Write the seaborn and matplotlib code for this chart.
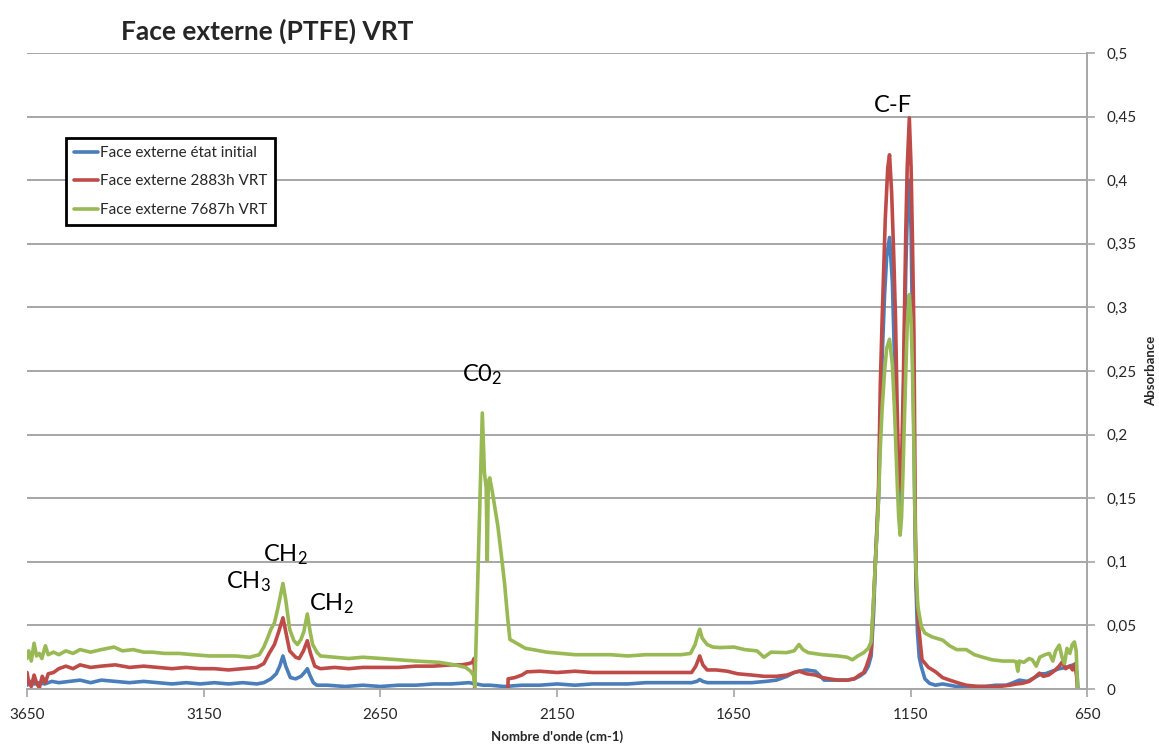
import matplotlib
matplotlib.use("Agg")
import matplotlib.pyplot as plt
import pandas as pd
import seaborn as sns
from matplotlib.lines import Line2D
from matplotlib.ticker import FuncFormatter


# wavenumbers (cm-1) and absorbance, one pair of lists per series
wn_initial = [3650, 3640, 3630, 3615, 3600, 3580, 3560, 3530, 3500, 3470, 3440, 3400, 3360, 3320,
              3280, 3240, 3200, 3160, 3120, 3080, 3040, 3000, 2980, 2960, 2945, 2935, 2926, 2918,
              2905, 2890, 2875, 2865, 2857, 2850, 2840, 2830, 2800, 2750, 2700, 2650, 2600, 2550,
              2500, 2450, 2400, 2380, 2360, 2340, 2300, 2250, 2200, 2150, 2100, 2050, 2000, 1950,
              1900, 1850, 1800, 1770, 1755, 1747, 1738, 1725, 1700, 1650, 1600, 1560, 1530, 1500,
              1480, 1465, 1445, 1420, 1405, 1395, 1370, 1350, 1330, 1310, 1295, 1280, 1270, 1262,
              1255, 1250, 1245, 1241, 1236, 1231, 1224, 1218, 1210, 1202, 1196, 1192, 1188, 1184,
              1180, 1176, 1172, 1168, 1164, 1160, 1154, 1149, 1145, 1141, 1138, 1135, 1131, 1126,
              1120, 1110, 1097, 1080, 1060, 1040, 1020, 1000, 970, 940, 910, 880, 860, 843, 820,
              800, 780, 769, 750, 730, 711, 700, 690, 683, 679, 675]
abs_initial = [0.003, 0.006, 0.004, 0.005, 0.004, 0.006, 0.005, 0.006, 0.007, 0.005, 0.007, 0.006,
               0.005, 0.006, 0.005, 0.004, 0.005, 0.004, 0.005, 0.004, 0.005, 0.004, 0.005, 0.008,
               0.012, 0.018, 0.026, 0.018, 0.009, 0.008, 0.010, 0.013, 0.016, 0.011, 0.005, 0.003,
               0.003, 0.002, 0.003, 0.002, 0.003, 0.003, 0.004, 0.004, 0.005, 0.004, 0.003, 0.003,
               0.002, 0.003, 0.003, 0.004, 0.003, 0.004, 0.004, 0.004, 0.005, 0.005, 0.005, 0.005,
               0.006, 0.0075, 0.006, 0.005, 0.005, 0.005, 0.005, 0.006, 0.007, 0.010, 0.013, 0.014,
               0.015, 0.014, 0.010, 0.007, 0.007, 0.007, 0.007, 0.008, 0.010, 0.013, 0.018, 0.026,
               0.06, 0.10, 0.13, 0.15, 0.21, 0.26, 0.31, 0.34, 0.355, 0.32, 0.26, 0.22, 0.18, 0.15,
               0.13, 0.15, 0.20, 0.27, 0.33, 0.37, 0.40, 0.36, 0.28, 0.20, 0.13, 0.08, 0.045, 0.025,
               0.0175, 0.008, 0.0045, 0.003, 0.004, 0.003, 0.002, 0.002, 0.002, 0.002, 0.003, 0.003,
               0.005, 0.007, 0.006, 0.009, 0.012, 0.012, 0.014, 0.016, 0.017, 0.018, 0.019, 0.016,
               0.010, -0.01]

wn_2883h = [3650, 3645, 3638, 3630, 3622, 3615, 3607, 3598, 3590, 3575, 3560, 3540, 3520, 3500,
            3470, 3440, 3400, 3360, 3320, 3280, 3240, 3200, 3160, 3120, 3080, 3040, 3000, 2980,
            2965, 2950, 2938, 2926, 2918, 2907, 2890, 2880, 2868, 2857, 2848, 2836, 2820, 2780,
            2740, 2700, 2650, 2600, 2550, 2500, 2450, 2420, 2400, 2390, 2385, 2383, 2290, 2289,
            2270, 2250, 2236, 2200, 2150, 2100, 2050, 2000, 1950, 1900, 1850, 1800, 1770, 1758,
            1747, 1738, 1726, 1700, 1669, 1640, 1600, 1565, 1530, 1500, 1480, 1466, 1445, 1420,
            1400, 1380, 1356, 1330, 1310, 1295, 1283, 1276, 1268, 1262, 1255, 1250, 1245, 1241,
            1236, 1231, 1222, 1215, 1210, 1204, 1198, 1193, 1189, 1185, 1180, 1175, 1171, 1168,
            1164, 1160, 1154, 1149, 1145, 1141, 1139, 1137, 1134, 1128, 1118, 1100, 1080, 1060,
            1040, 1012, 993, 960, 930, 900, 870, 850, 834, 815, 800, 786, 775, 760, 745, 730, 721,
            712, 700, 692, 685, 680, 677]
abs_2883h = [0.013, 0.005, 0.002, 0.011, 0.004, 0.001, 0.010, 0.005, 0.012, 0.013, 0.016, 0.018,
             0.016, 0.019, 0.017, 0.018, 0.019, 0.017, 0.018, 0.017, 0.016, 0.017, 0.016, 0.016,
             0.015, 0.016, 0.017, 0.020, 0.028, 0.035, 0.045, 0.056, 0.045, 0.030, 0.025, 0.024,
             0.030, 0.038, 0.028, 0.018, 0.016, 0.017, 0.016, 0.017, 0.017, 0.017, 0.018, 0.018,
             0.019, 0.019, 0.020, 0.021, 0.024, -0.01, -0.01, 0.008, 0.009, 0.011, 0.0135, 0.014,
             0.013, 0.014, 0.013, 0.013, 0.013, 0.013, 0.013, 0.013, 0.013, 0.018, 0.026, 0.019,
             0.015, 0.015, 0.014, 0.012, 0.011, 0.010, 0.010, 0.011, 0.013, 0.014, 0.012, 0.011,
             0.009, 0.008, 0.007, 0.007, 0.008, 0.011, 0.013, 0.0175, 0.024, 0.030, 0.07, 0.10,
             0.13, 0.16, 0.24, 0.29, 0.37, 0.41, 0.42, 0.39, 0.34, 0.29, 0.23, 0.18, 0.156, 0.19,
             0.24, 0.29, 0.36, 0.41, 0.449, 0.41, 0.35, 0.28, 0.20, 0.13, 0.08, 0.05, 0.023, 0.017,
             0.0136, 0.009, 0.007, 0.0045, 0.003, 0.002, 0.002, 0.002, 0.003, 0.004, 0.0045, 0.006,
             0.009, 0.0125, 0.010, 0.011, 0.014, 0.018, 0.0215, 0.016, 0.018, 0.015, 0.020, 0.008,
             -0.01]

wn_7687h = [3650, 3645, 3638, 3630, 3623, 3615, 3608, 3598, 3590, 3575, 3560, 3540, 3520, 3500,
            3470, 3440, 3404, 3380, 3350, 3320, 3296, 3260, 3220, 3180, 3134, 3100, 3060, 3020,
            2993, 2980, 2971, 2960, 2950, 2940, 2926, 2918, 2907, 2895, 2885, 2875, 2867, 2857,
            2849, 2842, 2830, 2820, 2780, 2740, 2700, 2647, 2600, 2550, 2484, 2440, 2409, 2395,
            2387, 2383, 2362, 2356, 2351, 2348, 2345, 2341, 2333, 2325, 2318, 2308, 2299, 2290,
            2284, 2265, 2240, 2219, 2180, 2140, 2100, 2067, 2000, 1950, 1900, 1850, 1800, 1773,
            1760, 1752, 1747, 1740, 1726, 1710, 1690, 1650, 1620, 1585, 1565, 1545, 1502, 1480,
            1466, 1455, 1440, 1400, 1356, 1330, 1315, 1300, 1283, 1270, 1262, 1255, 1250, 1245,
            1241, 1236, 1231, 1224, 1218, 1210, 1202, 1196, 1192, 1188, 1184, 1180, 1176, 1172,
            1168, 1164, 1160, 1154, 1149, 1145, 1141, 1139, 1136, 1130, 1120, 1110, 1090, 1060,
            1040, 1020, 993, 970, 946, 920, 890, 860, 852, 847, 843, 830, 815, 806, 795, 785, 770,
            758, 748, 740, 730, 722, 715, 708, 700, 693, 687, 682, 678]
abs_7687h = [0.024, 0.030, 0.022, 0.036, 0.026, 0.028, 0.024, 0.034, 0.027, 0.029, 0.027, 0.030,
             0.028, 0.031, 0.029, 0.031, 0.033, 0.030, 0.031, 0.029, 0.029, 0.028, 0.028, 0.027,
             0.026, 0.026, 0.026, 0.025, 0.027, 0.033, 0.039, 0.047, 0.052, 0.064, 0.083, 0.070,
             0.047, 0.038, 0.035, 0.039, 0.045, 0.059, 0.045, 0.035, 0.029, 0.026, 0.025, 0.024,
             0.025, 0.024, 0.023, 0.022, 0.021, 0.019, 0.017, 0.014, 0.011, 0.002, 0.217, 0.170,
             0.158, 0.101, 0.163, 0.166, 0.154, 0.140, 0.128, 0.105, 0.083, 0.055, 0.039, 0.036,
             0.032, 0.031, 0.029, 0.028, 0.027, 0.027, 0.027, 0.026, 0.027, 0.027, 0.027, 0.028,
             0.035, 0.043, 0.047, 0.040, 0.035, 0.033, 0.0326, 0.033, 0.031, 0.030, 0.025, 0.029,
             0.0286, 0.030, 0.035, 0.031, 0.0286, 0.027, 0.026, 0.025, 0.023, 0.026, 0.0286, 0.032,
             0.037, 0.07, 0.10, 0.125, 0.15, 0.19, 0.22, 0.25, 0.268, 0.275, 0.255, 0.22, 0.19,
             0.16, 0.135, 0.121, 0.135, 0.17, 0.21, 0.25, 0.285, 0.31, 0.29, 0.25, 0.19, 0.15,
             0.10, 0.065, 0.049, 0.044, 0.041, 0.0385, 0.034, 0.031, 0.031, 0.027, 0.025, 0.023,
             0.022, 0.022, 0.0215, 0.014, 0.022, 0.021, 0.024, 0.023, 0.018, 0.025, 0.027, 0.028,
             0.022, 0.030, 0.0345, 0.025, 0.020, 0.032, 0.028, 0.035, 0.037, 0.030, 0.0]

series_names = ["Face externe état initial", "Face externe 2883h VRT", "Face externe 7687h VRT"]
series_colors = ["#4A7EBB", "#BE4B48", "#98B954"]
x_ticks = [3650, 3150, 2650, 2150, 1650, 1150, 650]
y_ticks = [0, 0.05, 0.1, 0.15, 0.2, 0.25, 0.3, 0.35, 0.4, 0.45, 0.5]

# band labels: text, wavenumber, absorbance
band_labels = [
    ("C-F", 1200, 0.459),
    ("C0$_{\\mathrm{2}}$", 2363, 0.247),
    ("CH$_{\\mathrm{2}}$", 2920, 0.106),
    ("CH$_{\\mathrm{3}}$", 3025, 0.084),
    ("CH$_{\\mathrm{2}}$", 2790, 0.067),
]


def comma_fmt(v, _pos):
    return f"{v:.2f}".rstrip("0").rstrip(".").replace(".", ",")


def main() -> None:
    sns.set_theme(style="white")
    plt.rcParams["font.family"] = ["Lato", "DejaVu Sans"]
    plt.rcParams["mathtext.fontset"] = "custom"
    plt.rcParams["mathtext.rm"] = "Lato"
    plt.rcParams["mathtext.it"] = "Lato"

    frames = []
    for name, wn, ab in zip(series_names,
                            [wn_initial, wn_2883h, wn_7687h],
                            [abs_initial, abs_2883h, abs_7687h]):
        frames.append(pd.DataFrame({"wn": wn, "abs": ab, "serie": name}))
    df = pd.concat(frames, ignore_index=True)

    fig = plt.figure(figsize=(11.59, 7.47), dpi=100)
    ax = fig.add_axes([0.0233, 0.0776, 0.915, 0.8514])

    sns.lineplot(data=df, x="wn", y="abs", hue="serie", hue_order=series_names,
                 palette=dict(zip(series_names, series_colors)), sort=False,
                 estimator=None, linewidth=2.6, legend=False, ax=ax)

    ax.set_xlim(3650, 650)
    ax.set_ylim(0, 0.5)
    ax.set_xticks(x_ticks)
    ax.set_yticks(y_ticks)
    ax.yaxis.set_major_formatter(FuncFormatter(comma_fmt))
    ax.yaxis.tick_right()
    ax.yaxis.set_label_position("right")
    ax.grid(axis="y", color="#A6A6A6", linewidth=1.4)
    ax.grid(axis="x", visible=False)
    ax.set_axisbelow(True)

    for side in ["left", "top"]:
        ax.spines[side].set_visible(False)
    for side in ["right", "bottom"]:
        ax.spines[side].set_color("#A6A6A6")
        ax.spines[side].set_linewidth(1.4)

    ax.tick_params(axis="x", direction="out", length=6, width=1.2, color="#A6A6A6",
                   labelsize=11, pad=8, bottom=True)
    ax.tick_params(axis="y", direction="out", length=6, width=1.2, color="#A6A6A6",
                   labelsize=11, pad=8, right=True, left=False)

    ax.set_xlabel("Nombre d'onde (cm-1)", fontsize=9.5, fontweight="bold", labelpad=6)
    ax.set_ylabel("Absorbance", fontsize=9.5, fontweight="bold", labelpad=6)

    for txt, x, y in band_labels:
        ax.text(x, y, txt, fontsize=17, ha="center", va="center", color="black")

    handles = [Line2D([0], [0], color=c, linewidth=2.6) for c in series_colors]
    leg = ax.legend(handles, series_names, loc="upper left", bbox_to_anchor=(0.037, 0.866),
                    borderaxespad=0, fontsize=11, handlelength=1.6, handletextpad=0.1,
                    labelspacing=0.95, borderpad=0.5, fancybox=False, framealpha=1)
    leg.get_frame().set_edgecolor("black")
    leg.get_frame().set_linewidth(2)

    fig.text(0.104, 0.958, "Face externe (PTFE) VRT", fontsize=19, fontweight="bold",
             ha="left", va="center")

    fig.savefig("out.png", dpi=100)
    plt.close(fig)


if __name__ == "__main__":
    main()
